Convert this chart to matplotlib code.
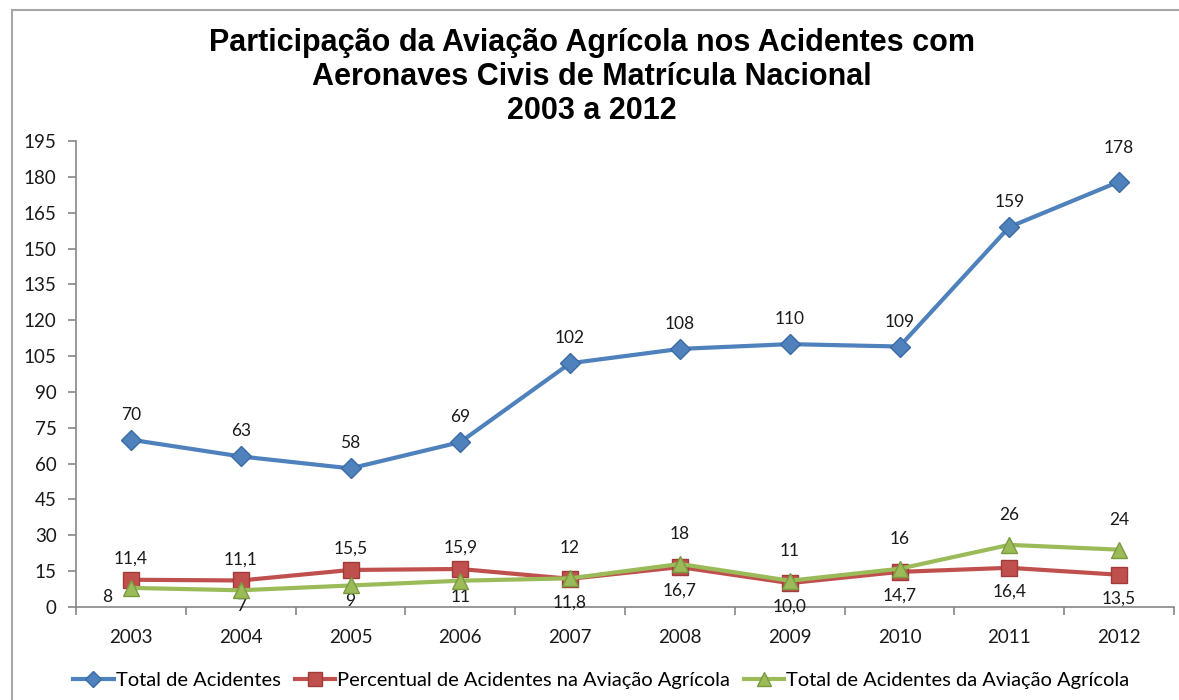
import matplotlib.pyplot as plt
from matplotlib.patches import Rectangle
import numpy as np

# data
anos = ['2003', '2004', '2005', '2006', '2007', '2008', '2009', '2010', '2011', '2012']
total_acidentes = [70, 63, 58, 69, 102, 108, 110, 109, 159, 178]
percentual_agricola = [11.4, 11.1, 15.5, 15.9, 11.8, 16.7, 10.0, 14.7, 16.4, 13.5]
total_agricola = [8, 7, 9, 11, 12, 18, 11, 16, 26, 24]

titulo = ('Participação da Aviação Agrícola nos Acidentes com\n'
          'Aeronaves Civis de Matrícula Nacional\n2003 a 2012')
nomes = ['Total de Acidentes',
         'Percentual de Acidentes na Aviação Agrícola',
         'Total de Acidentes da Aviação Agrícola']

AZUL = '#4F81BD'
VERMELHO = '#C0504D'
VERDE = '#9BBB59'
EIXO = '#868686'
FONTE = ['Lato', 'DejaVu Sans']


def fmt(v):
    """Excel style decimal comma."""
    if isinstance(v, float):
        return '{:.1f}'.format(v).replace('.', ',')
    return str(v)


fig = plt.figure(figsize=(11.79, 7.0), dpi=100)
ax = fig.add_axes([76 / 1179, 1 - 607 / 700, 1098 / 1179, 466 / 700])

# outer chart border (only left and top visible in the crop)
fig.patches.append(Rectangle((12 / 1179, -0.1), 1.2, 1.1 - 10 / 700,
                             transform=fig.transFigure, fill=False,
                             edgecolor='#A6A6A6', linewidth=1.5))

x = np.arange(len(anos))
l1, = ax.plot(x, total_acidentes, color=AZUL, lw=3, marker='D', ms=10,
              mfc=AZUL, mec='#3A6BA5', label=nomes[0], zorder=3)
l2, = ax.plot(x, percentual_agricola, color=VERMELHO, lw=3, marker='s', ms=12,
              mfc=VERMELHO, mec='#A03B38', label=nomes[1], zorder=3)
l3, = ax.plot(x, total_agricola, color=VERDE, lw=3, marker='^', ms=12,
              mfc=VERDE, mec='#7A9A40', label=nomes[2], zorder=4)

lab = dict(textcoords='offset pixels', ha='center', va='center',
           fontsize=12.5, family=FONTE, color='#1a1a1a')

for i, v in enumerate(total_acidentes):
    dy = 34 if i == 9 else 25
    ax.annotate(fmt(v), (x[i], v), xytext=(0, dy), **lab)

for i, v in enumerate(percentual_agricola):
    dy = 21 if i < 4 else -24
    ax.annotate(fmt(v), (x[i], v), xytext=(0, dy), **lab)

for i, v in enumerate(total_agricola):
    if i == 0:
        off = (-24, -9)
    elif i < 4:
        off = (0, -16)
    else:
        off = (0, 30)
    ax.annotate(fmt(v), (x[i], v), xytext=off, **lab)

ax.set_xlim(-0.5, len(anos) - 0.5)
ax.set_ylim(0, 195)
ax.set_yticks(np.arange(0, 196, 15))
ax.set_xticks(np.arange(-0.5, len(anos), 1))
ax.set_xticklabels([])
ax.set_xticks(x, minor=True)
ax.set_xticklabels(anos, minor=True)
ax.tick_params(axis='x', which='major', length=6, color=EIXO, width=1.2)
ax.tick_params(axis='x', which='minor', length=0, pad=16)
ax.tick_params(axis='y', length=6, color=EIXO, width=1.2, pad=8)
for t in ax.get_xticklabels(minor=True) + ax.get_yticklabels():
    t.set_fontsize(13.5)
    t.set_family(FONTE)
    t.set_color('#1a1a1a')

for s in ['top', 'right']:
    ax.spines[s].set_visible(False)
for s in ['left', 'bottom']:
    ax.spines[s].set_color(EIXO)
    ax.spines[s].set_linewidth(1.2)

fig.text(0.502, 1 - 28 / 700, titulo, ha='center', va='top', fontsize=22,
         fontweight='bold', family=['Liberation Sans', 'DejaVu Sans'],
         linespacing=1.18)

fig.legend(handles=[l1, l2, l3], loc='center', bbox_to_anchor=(0.51, 1 - 680 / 700),
           ncol=3, frameon=False, prop={'family': FONTE, 'size': 14.5},
           handlelength=2.0, handletextpad=0.1, columnspacing=0.7,
           markerscale=0.85)

fig.savefig('out.png', dpi=100)
